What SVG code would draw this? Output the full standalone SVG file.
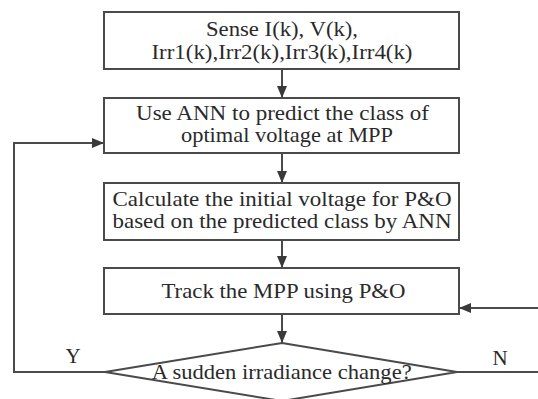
<svg xmlns="http://www.w3.org/2000/svg" width="538" height="399" viewBox="0 0 538 399">
<style>
.box{fill:#fff;stroke:#4a4a4a;stroke-width:2}
.t{font-family:"Liberation Serif","Times New Roman",serif;font-size:21px;fill:#2a2a2a;text-anchor:middle}
.c{fill:none;stroke:#4a4a4a;stroke-width:2}
</style>
<defs>
<marker id="ah" viewBox="0 0 12 10" refX="12" refY="5" markerWidth="12" markerHeight="10" markerUnits="userSpaceOnUse" orient="auto">
<path d="M0,0 L12,5 L0,10 Z" fill="#3a3a3a"/>
</marker>
</defs>
<rect width="538" height="399" fill="#fff"/>
<g id="connectors">
<line class="c" x1="282" y1="69" x2="282" y2="98" marker-end="url(#ah)"/>
<line class="c" x1="282" y1="153" x2="282" y2="183" marker-end="url(#ah)"/>
<line class="c" x1="282" y1="240" x2="282" y2="268" marker-end="url(#ah)"/>
<line class="c" x1="282" y1="314" x2="282" y2="343" marker-end="url(#ah)"/>
<polyline class="c" points="105,372 14,372 14,143 104,143" marker-end="url(#ah)"/>
<polyline class="c" points="457,372 541,372 541,308 459,308" marker-end="url(#ah)"/>
</g>
<g id="sense">
<rect class="box" x="104" y="12" width="355" height="57"/>
<text class="t" x="282" y="36" textLength="152" lengthAdjust="spacingAndGlyphs">Sense I(k), V(k),</text>
<text class="t" x="282" y="59" textLength="261" lengthAdjust="spacingAndGlyphs">Irr1(k),Irr2(k),Irr3(k),Irr4(k)</text>
</g>
<g id="ann">
<rect class="box" x="104" y="98" width="355" height="55"/>
<text class="t" x="282.5" y="120" textLength="293" lengthAdjust="spacingAndGlyphs">Use ANN to predict the class of</text>
<text class="t" x="287" y="142" textLength="212" lengthAdjust="spacingAndGlyphs">optimal voltage at MPP</text>
</g>
<g id="calc">
<rect class="box" x="104" y="183" width="355" height="57"/>
<text class="t" x="282" y="206" textLength="339" lengthAdjust="spacingAndGlyphs">Calculate the initial voltage for P&amp;O</text>
<text class="t" x="282" y="228" textLength="339" lengthAdjust="spacingAndGlyphs">based on the predicted class by ANN</text>
</g>
<g id="track">
<rect class="box" x="104" y="268" width="355" height="46"/>
<text class="t" x="283.5" y="298" textLength="244" lengthAdjust="spacingAndGlyphs">Track the MPP using P&amp;O</text>
</g>
<g id="decision">
<polygon class="box" points="282,343 457,372 282,401 105,372"/>
<text class="t" x="281.7" y="379" textLength="260" lengthAdjust="spacingAndGlyphs">A sudden irradiance change?</text>
</g>
<g id="labels">
<text class="t" x="73" y="363">Y</text>
<text class="t" x="500" y="365">N</text>
</g>
</svg>
